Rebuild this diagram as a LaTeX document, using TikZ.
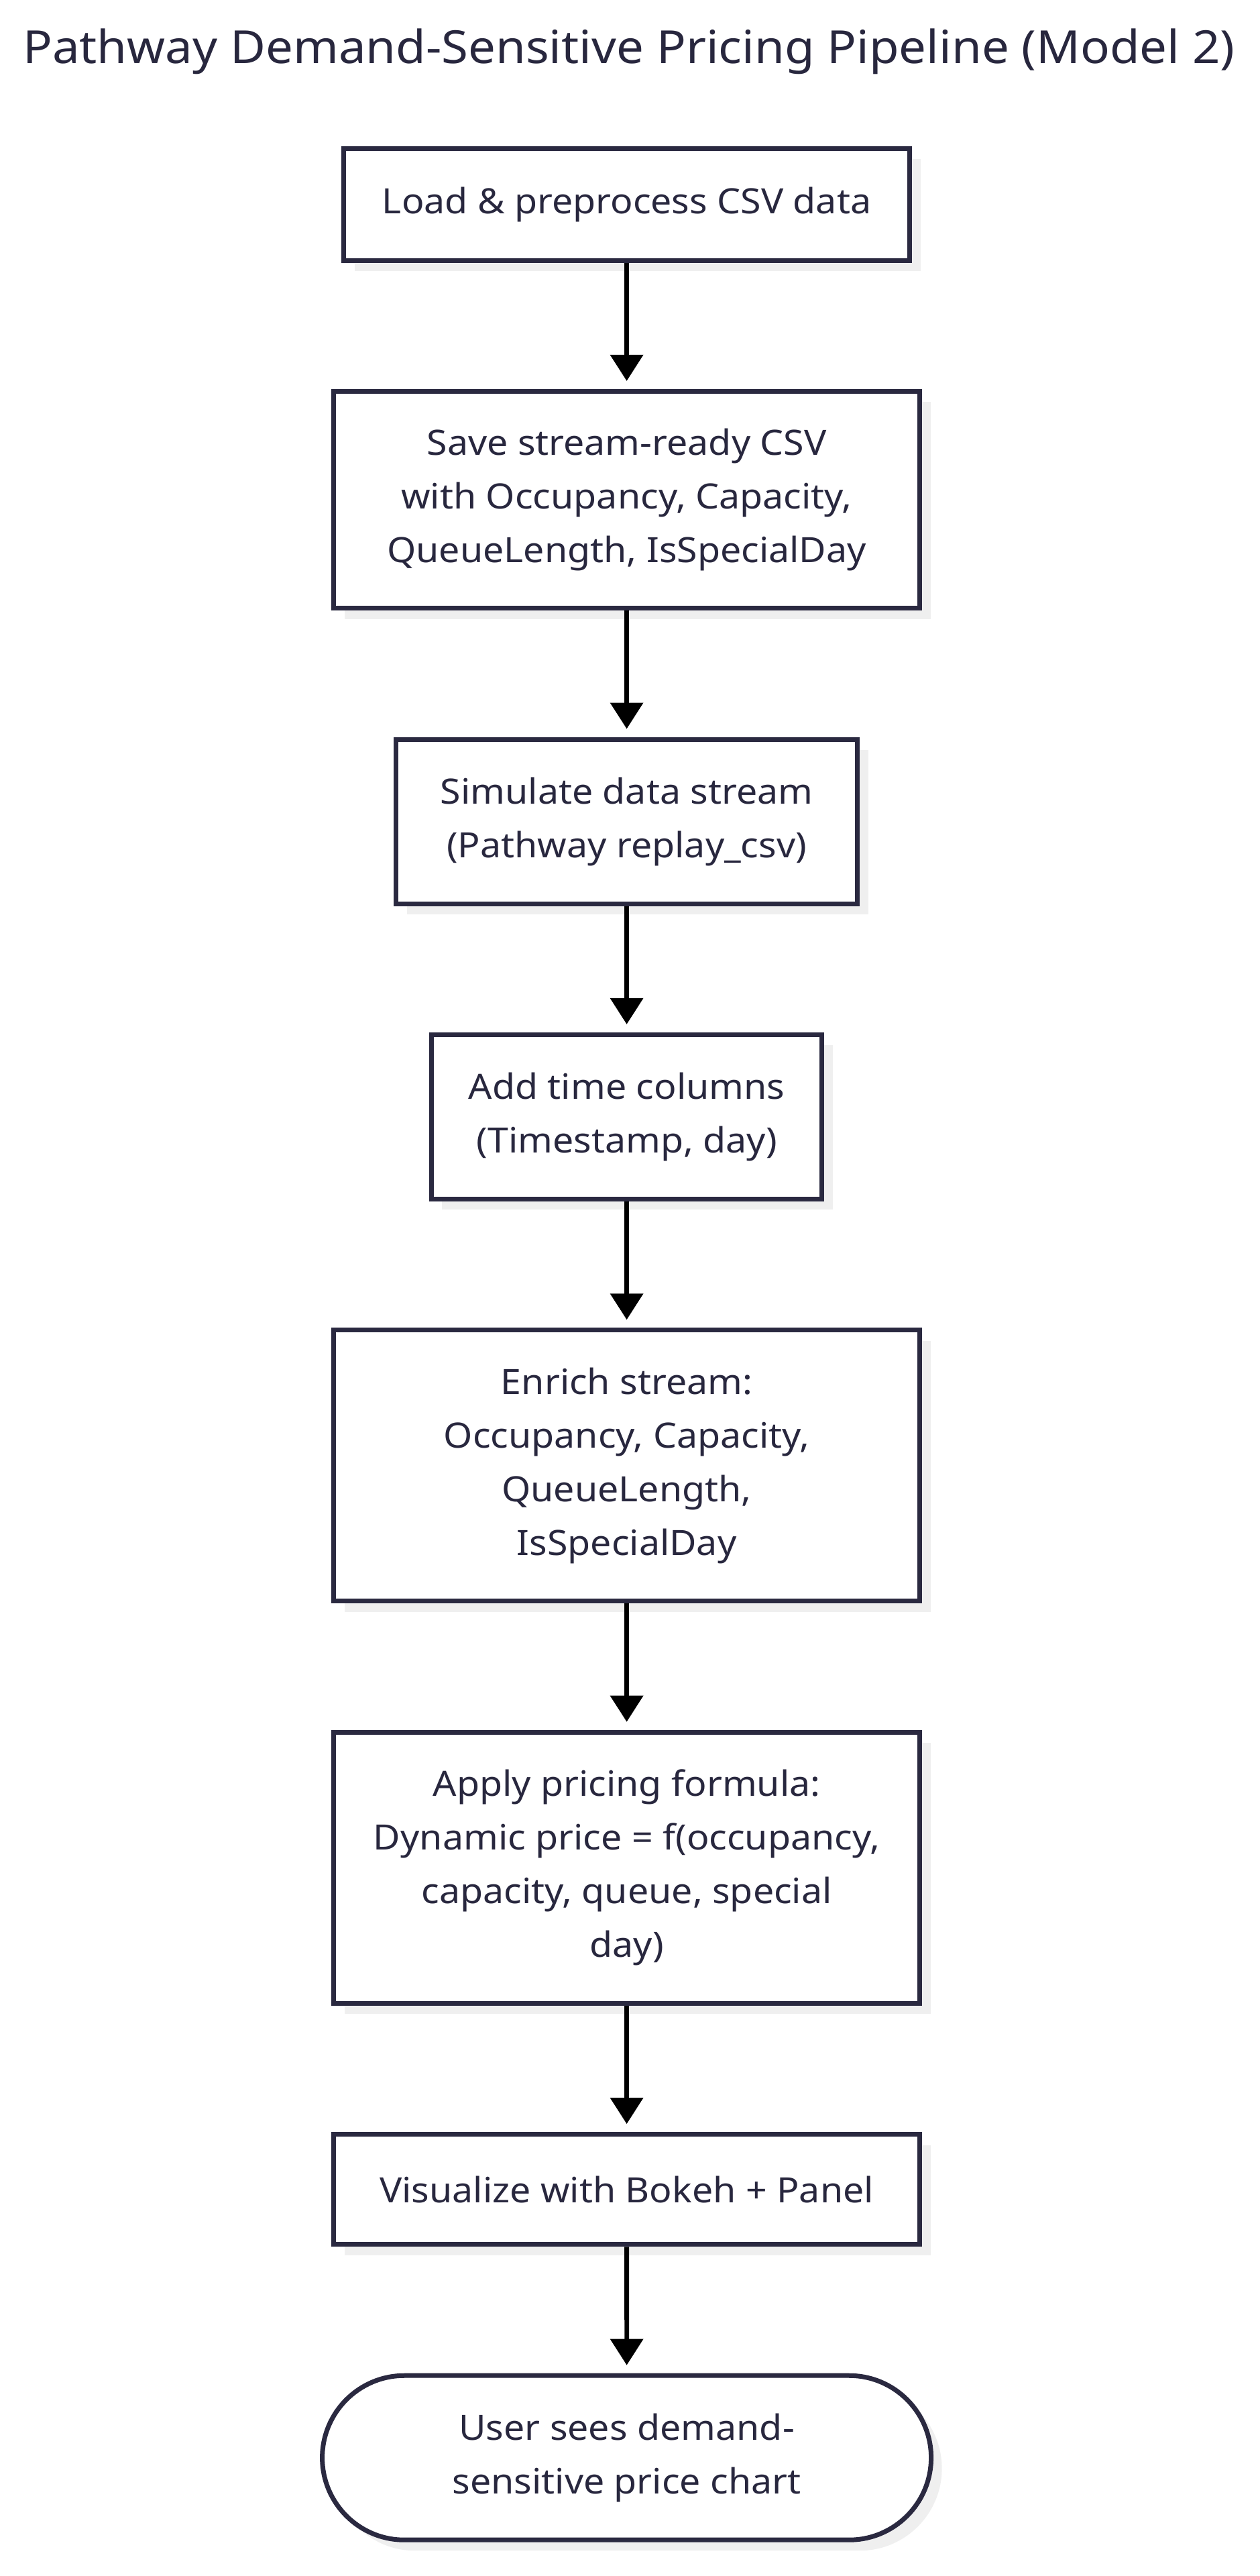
\documentclass[tikz,border=0pt]{standalone}
\usepackage{fontspec}
\setmainfont{Noto Sans}[FakeStretch=1.067]
\usetikzlibrary{positioning,shapes.misc,shadows,arrows.meta}
\definecolor{ink}{RGB}{40,39,62}
\definecolor{edge}{RGB}{42,41,64}
\definecolor{shade}{RGB}{239,239,239}

\begin{document}
\begin{tikzpicture}[node distance=94.2pt,
    stepbox/.style={draw=edge, line width=3.5pt, fill=white, text=ink, align=center, inner sep=0pt,
      font=\fontsize{26pt}{40pt}\selectfont,
      general shadow={fill=shade, shadow xshift=8pt, shadow yshift=-8pt}},
    endbox/.style={stepbox, rounded rectangle},
    flowarrow/.style={line width=3.4pt, -{Triangle[width=24pt,length=19.5pt]}, shorten >=6pt}]

    \useasboundingbox (0pt,0pt) rectangle (939.5pt,-1920pt);

    \node [text=ink, anchor=base, font=\fontsize{34pt}{40pt}\selectfont] (title) at (469pt,-47pt)
      {Pathway Demand-Sensitive Pricing Pipeline (Model 2)};

    \node [stepbox, minimum width=422pt, minimum height=83.4pt] (load) at (467.3pt,-152.3pt)
      {Load \& preprocess CSV data};
    \node [stepbox, minimum width=437pt, minimum height=161.6pt, below=of load] (save)
      {Save stream-ready CSV\\with Occupancy, Capacity,\\QueueLength, IsSpecialDay};
    \node [stepbox, minimum width=344pt, minimum height=122.5pt, below=of save] (replay)
      {Simulate data stream\\(Pathway replay\_csv)};
    \node [stepbox, minimum width=291.3pt, minimum height=122.5pt, below=of replay] (timecols)
      {Add time columns\\(Timestamp, day)};
    \node [stepbox, minimum width=437pt, minimum height=202pt, below=of timecols] (enrich)
      {Enrich stream:\\Occupancy, Capacity,\\QueueLength,\\IsSpecialDay};
    \node [stepbox, minimum width=437pt, minimum height=202pt, below=of enrich] (pricing)
      {Apply pricing formula:\\Dynamic price = f(occupancy,\\capacity, queue, special\\day)};
    \node [stepbox, minimum width=437pt, minimum height=82.1pt, below=of pricing] (bokeh)
      {Visualize with Bokeh + Panel};
    \node [endbox, minimum width=454pt, minimum height=122.5pt, below=of bokeh] (user)
      {User sees demand-\\sensitive price chart};

    \foreach \a/\b in {load/save, save/replay, replay/timecols, timecols/enrich,
                       enrich/pricing, pricing/bokeh, bokeh/user}
      \draw [flowarrow] (\a) -- (\b);

\end{tikzpicture}
\end{document}
